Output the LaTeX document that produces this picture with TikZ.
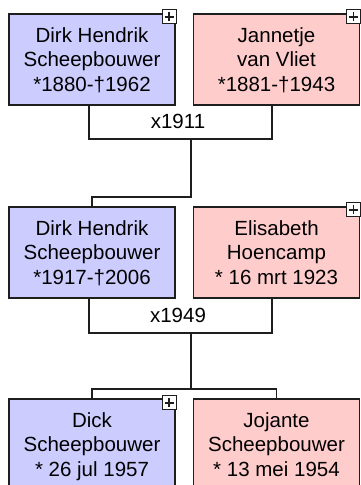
\documentclass[tikz,border=0pt]{standalone}
\usepackage{fontspec}
\setmainfont{Liberation Sans}
\usepackage{xcolor}
\definecolor{linegray}{HTML}{1E1E1E}
\definecolor{manblue}{HTML}{CCCCFF}
\definecolor{womanpink}{HTML}{FFCCCC}
\usetikzlibrary{positioning,calc}
\tikzset{person/.style={draw=linegray,line width=1.1pt,minimum width=166pt,minimum height=91pt,inner sep=0pt,align=center,font=\fontsize{20.5}{24.5}\selectfont,text height=63pt,text depth=0pt},link/.style={draw=linegray,line width=1.3pt},marr/.style={font=\fontsize{20.5}{24}\selectfont,inner sep=0pt}}

\begin{document}
\begin{tikzpicture}[x=1pt,y=-1pt,
man/.style={person,fill=manblue},
woman/.style={person,fill=womanpink},
plusbox/.style={draw=linegray,fill=white,line width=1pt,minimum size=14pt,inner sep=0pt,anchor=north east,
  path picture={\draw[line width=1.6pt] ([xshift=-4.5pt]path picture bounding box.center)--([xshift=4.5pt]path picture bounding box.center)
  ([yshift=-4.5pt]path picture bounding box.center)--([yshift=4.5pt]path picture bounding box.center);}}]
\useasboundingbox (0,0) rectangle (361,485);
% generation 1
\node[man] (dirk1) at (92,59.5) {Dirk Hendrik\\Scheepbouwer\\*1880-†1962};
\node[woman] (jannetje) at (276.5,59.5) {Jannetje\\van Vliet\\*1881-†1943};
\node[plusbox] (x-dirk1) at ($(dirk1.north east)+(1,-4)$) {};
\node[plusbox] (x-jannetje) at ($(jannetje.north east)+(1,-4)$) {};
% generation 2
\node[man] (dirk2) at (92,252.5) {Dirk Hendrik\\Scheepbouwer\\*1917-†2006};
\node[woman] (elisabeth) at (276.5,252.5) {Elisabeth\\Hoencamp\\* 16 mrt 1923};
\node[plusbox] (x-elisabeth) at ($(elisabeth.north east)+(1,-4)$) {};
% generation 3
\node[man] (dick) at (92,444.5) {Dick\\Scheepbouwer\\* 26 jul 1957};
\node[woman] (jojante) at (276.5,444.5) {Jojante\\Scheepbouwer\\* 13 mei 1954};
\node[plusbox] (x-dick) at ($(dick.north east)+(1,-3)$) {};
% marriages
\coordinate (m1) at (191,139);
\coordinate (m2) at (191,333);
\node[marr] (y1) at (178,121) {x1911};
\node[marr] (y2) at (178,315) {x1949};
\draw[link] ([xshift=-3pt]dirk1.south) |- (m1) -| ([xshift=-4.5pt]jannetje.south);
\draw[link] ([xshift=-3pt]dirk2.south) |- (m2) -| ([xshift=-4.5pt]elisabeth.south);
% descent
\draw[link] (m1) -- ++(0,58) -| (dirk2.north);
\coordinate (sib) at (191,389);
\draw[link] (m2) -- (sib);
\draw[link] (dick.north) |- (sib) -| (jojante.north);
\end{tikzpicture}
\end{document}
